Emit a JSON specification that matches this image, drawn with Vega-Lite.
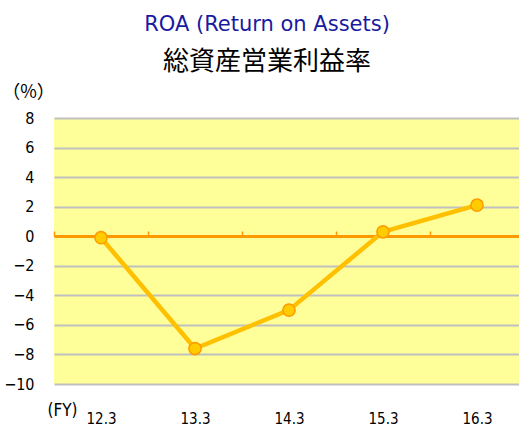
{
  "$schema": "https://vega.github.io/schema/vega-lite/v6.json",
  "autosize": {"type": "none"},
  "padding": {"left": 54, "top": 118, "right": 0, "bottom": 44},
  "width": 470,
  "height": 266,
  "background": "white",
  "title": {
    "text": "ROA (Return on Assets)",
    "subtitle": "総資産営業利益率",
    "anchor": "middle",
    "frame": "group",
    "dx": -22,
    "offset": 8,
    "font": "DejaVu Sans",
    "fontSize": 21,
    "fontWeight": "normal",
    "color": "#1a1aa0",
    "subtitleFont": "Noto Sans CJK JP",
    "subtitleFontSize": 26,
    "subtitleColor": "#000000",
    "subtitlePadding": 14
  },
  "config": {
    "view": {"fill": "#ffff99", "stroke": null},
    "axis": {"labelFont": "DejaVu Sans Condensed, Roboto, sans-serif", "titleFont": "DejaVu Sans Condensed, Roboto, sans-serif"}
  },
  "data": {
    "values": [
      {"fy": "12.3", "roa": -0.1},
      {"fy": "13.3", "roa": -7.6},
      {"fy": "14.3", "roa": -5.0},
      {"fy": "15.3", "roa": 0.3},
      {"fy": "16.3", "roa": 2.1}
    ]
  },
  "encoding": {
    "x": {
      "field": "fy",
      "type": "ordinal",
      "bandPosition": 0.5,
      "scale": {"type": "band", "paddingInner": 0, "paddingOuter": 0},
      "axis": {
        "title": "(FY)",
        "titleAngle": 0,
        "titleX": 8,
        "titleY": 174,
        "titleAlign": "center",
        "titleBaseline": "middle",
        "titleFontSize": 17,
        "titleFontWeight": "normal",
        "titleColor": "#000000",
        "offset": -148,
        "domainColor": "#ff9900",
        "domainWidth": 3,
        "domainCap": "butt",
        "tickColor": "#ff9900",
        "tickWidth": 1.5,
        "tickSize": -5,
        "tickBand": "extent",
        "labelAngle": 0,
        "labelPadding": 187,
        "labelFontSize": 15,
        "labelColor": "#000000",
        "labelBaseline": "middle",
        "grid": false
      }
    },
    "y": {
      "field": "roa",
      "type": "quantitative",
      "scale": {"domain": [-10, 8], "nice": false, "zero": false},
      "axis": {
        "values": [-10, -8, -6, -4, -2, 0, 2, 4, 6, 8],
        "title": "（%）",
        "titleFont": "Noto Sans CJK JP",
        "titleAngle": 0,
        "titleX": -26,
        "titleY": -26,
        "titleAlign": "center",
        "titleBaseline": "middle",
        "titleFontSize": 18,
        "titleFontWeight": "normal",
        "titleColor": "#000000",
        "domain": false,
        "ticks": false,
        "labelPadding": 20,
        "labelFontSize": 16,
        "labelColor": "#000000",
        "grid": true,
        "gridColor": "#c0c0c0",
        "gridWidth": 2,
        "gridOpacity": 1
      }
    }
  },
  "layer": [
    {
      "mark": {"type": "line", "color": "#ffc000", "strokeWidth": 4.5}
    },
    {
      "mark": {"type": "point", "filled": true, "fill": "#ffcc00", "stroke": "#ff9900", "strokeWidth": 1.5, "size": 150, "opacity": 1}
    }
  ]
}
